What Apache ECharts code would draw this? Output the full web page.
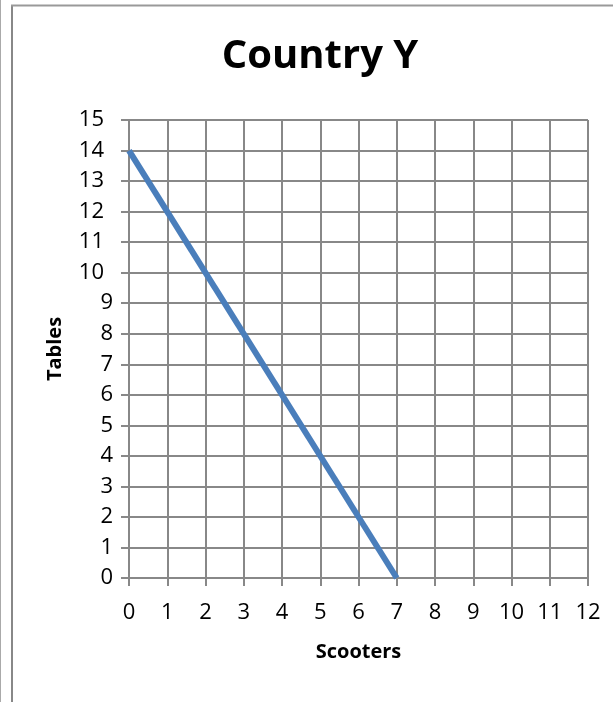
<!DOCTYPE html>
<html>
<head>
<meta charset="utf-8">
<script src="https://cdn.jsdelivr.net/npm/echarts@6/dist/echarts.min.js"></script>
<style>
html,body{margin:0;padding:0;background:#fff;}
#chart{width:613px;height:702px;}
</style>
</head>
<body>
<div id="chart"></div>
<script>
const titleText = "Country Y";
const xName = "Scooters";
const yName = "Tables";
const scooters = [0, 7];
const tables = [14, 0];

const chart = echarts.init(document.getElementById('chart'));
const font = "'Open Sans', sans-serif";
chart.setOption({
  animation: false,
  title: {
    text: titleText,
    left: 315, top: 32, textAlign: 'center',
    textStyle: {fontFamily: font, fontSize: 40, fontWeight: 'bold', color: '#000'}
  },
  graphic: [
    {type: 'line', shape: {x1: 0.5, y1: 0, x2: 0.5, y2: 702}, style: {stroke: '#aaa', lineWidth: 1}},
    {type: 'line', shape: {x1: 12, y1: 5, x2: 12, y2: 702}, style: {stroke: '#888', lineWidth: 2}},
    {type: 'line', shape: {x1: 11, y1: 5.5, x2: 613, y2: 5.5}, style: {stroke: '#999', lineWidth: 2}}
  ],
  grid: {left: 129, right: 25, top: 120, bottom: 124, containLabel: false},
  xAxis: {
    type: 'value', min: 0, max: 12, interval: 1,
    name: xName, nameLocation: 'middle', nameGap: 64,
    nameTextStyle: {fontFamily: font, fontSize: 20, fontWeight: 'bold', color: '#000'},
    axisLine: {show: true, onZero: false, lineStyle: {color: '#888', width: 2}},
    axisTick: {show: true, length: 8, lineStyle: {color: '#888', width: 2}},
    axisLabel: {fontFamily: font, fontSize: 22, color: '#000', margin: 24},
    splitLine: {show: true, lineStyle: {color: '#888', width: 2}}
  },
  yAxis: {
    type: 'value', min: 0, max: 15, interval: 1,
    name: yName, nameLocation: 'middle', nameGap: 64, nameRotate: 90,
    nameTextStyle: {fontFamily: font, fontSize: 20, fontWeight: 'bold', color: '#000'},
    axisLine: {show: true, lineStyle: {color: '#888', width: 2}},
    axisTick: {show: true, length: 8, lineStyle: {color: '#888', width: 2}},
    axisLabel: {
      fontFamily: font, fontSize: 22, color: '#000', margin: 16,
      formatter: v => (v >= 10 ? '{w|' + v + '}' : '{n|' + v + '}'),
      rich: {
        w: {fontFamily: font, fontSize: 22, color: '#000', padding: [0, 9, 0, 0]},
        n: {fontFamily: font, fontSize: 22, color: '#000'}
      }
    },
    splitLine: {show: true, lineStyle: {color: '#888', width: 2}}
  },
  series: [{
    type: 'line',
    data: scooters.map((s, i) => [s, tables[i]]),
    symbol: 'none',
    lineStyle: {color: '#4a7ebb', width: 6}
  }]
});
</script>
</body>
</html>
